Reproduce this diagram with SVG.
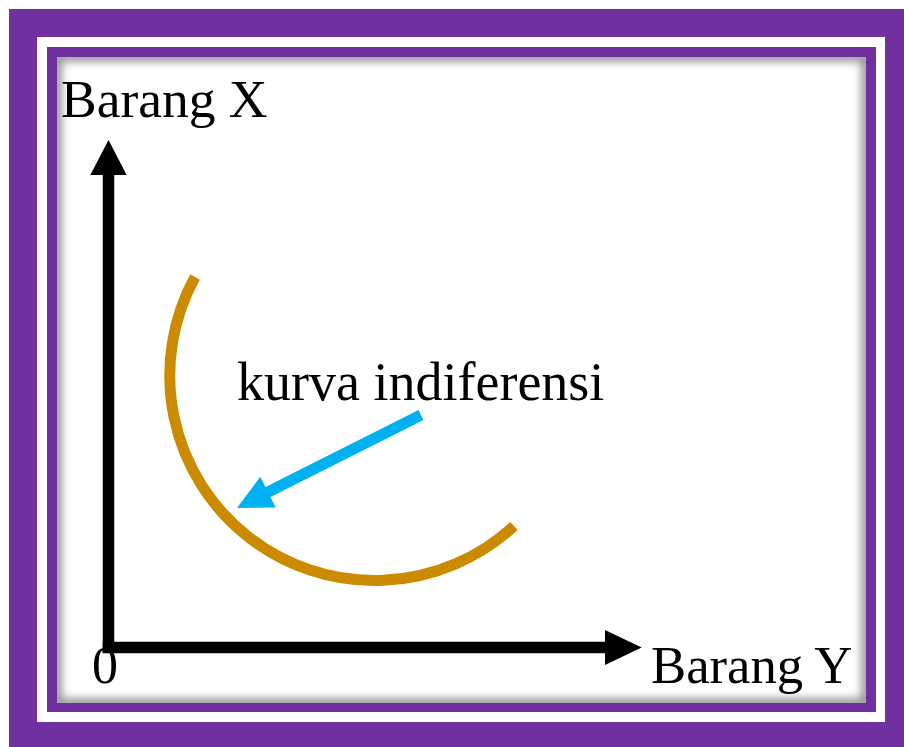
<svg xmlns="http://www.w3.org/2000/svg" width="904" height="747" viewBox="0 0 904 747">
<style>
.lbl{font-family:"Liberation Serif","Times New Roman",serif;font-size:52px;fill:#000}
.axis{stroke:#000;stroke-width:11.5;fill:none}
</style>
<defs>
<clipPath id="inner"><rect x="57" y="57" width="809" height="646"/></clipPath>
<filter id="blur" x="-10%" y="-10%" width="120%" height="120%"><feGaussianBlur stdDeviation="4"/></filter>
</defs>
<g id="frame">
<rect x="0" y="0" width="904" height="747" fill="#fff"/>
<rect x="9" y="9" width="895" height="738" fill="#7030A0"/>
<rect x="37" y="37" width="848" height="685" fill="#fff"/>
<rect x="47" y="47" width="829" height="665" fill="#7030A0"/>
<rect x="57" y="57" width="809" height="646" fill="#fff"/>
<rect x="57" y="57" width="809" height="646" fill="none" stroke="#000" stroke-opacity="0.45" stroke-width="9" filter="url(#blur)" clip-path="url(#inner)"/>
</g>
<g id="connectors">
<line class="axis" x1="108.5" y1="653" x2="108.5" y2="172"/>
<polygon points="108.5,140 126.7,175 90.3,175" fill="#000"/>
<line class="axis" x1="102.7" y1="647.5" x2="608" y2="647.5"/>
<polygon points="641.7,647.5 605,630 605,665" fill="#000"/>
<line x1="421" y1="415" x2="266" y2="493" stroke="#00B0F0" stroke-width="11"/>
<polygon points="237,508 260.3,476.8 275.7,507.4" fill="#00B0F0"/>
</g>
<g id="curve">
<path d="M195,277 A205,205 0 0 0 514,526" fill="none" stroke="#CC8A00" stroke-width="11"/>
</g>
<g id="label-x"><text class="lbl" x="61" y="117" style="font-size:53.5px">Barang X</text></g>
<g id="label-y"><text class="lbl" x="651" y="683" style="font-size:52.7px">Barang Y</text></g>
<g id="label-origin"><text class="lbl" x="92" y="683">0</text></g>
<g id="label-curve"><text class="lbl" x="237" y="400" style="font-size:54px">kurva indiferensi</text></g>
</svg>
